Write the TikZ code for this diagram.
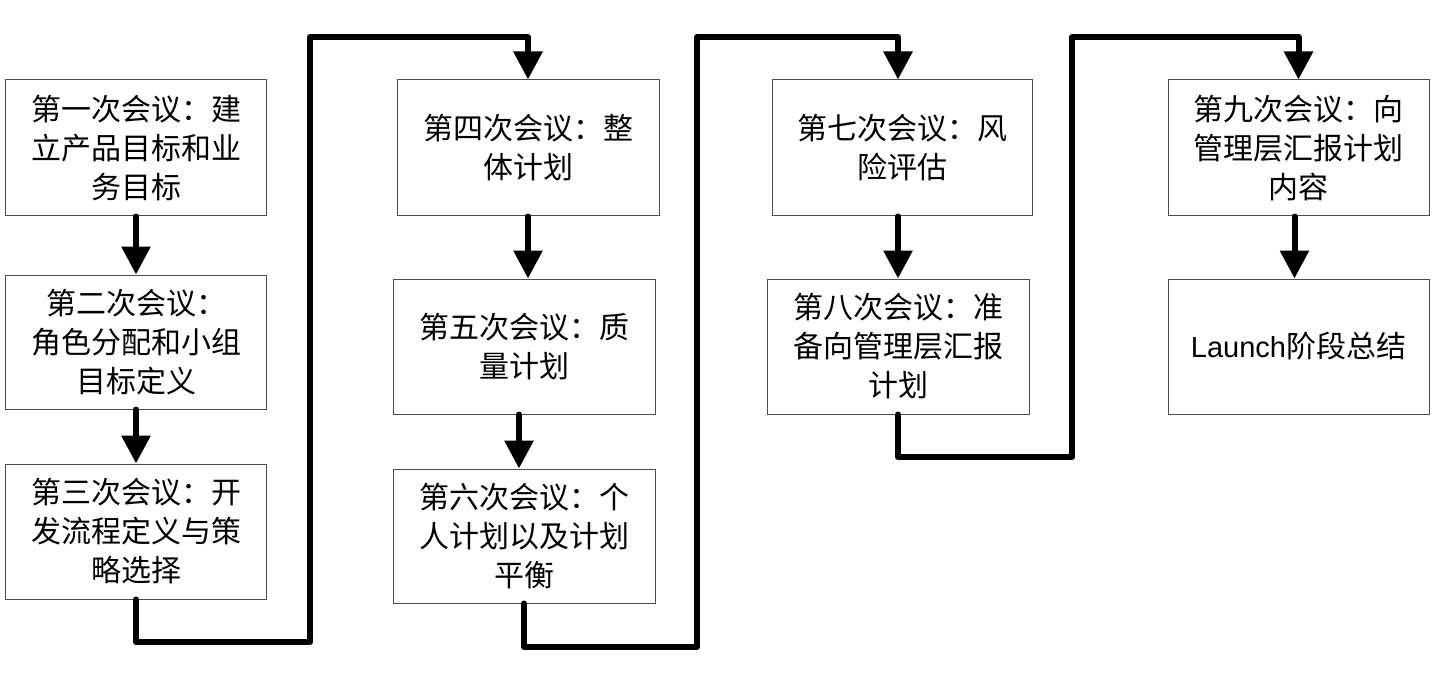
\documentclass[tikz,border=0pt]{standalone}
\usepackage{fontspec}
\setmainfont{Liberation Sans}
\newfontfamily\cjk{Noto Sans CJK SC}
\newfontfamily\latn{Liberation Sans}
\usetikzlibrary{arrows.meta}
\begin{document}
\begin{tikzpicture}[x=1pt,y=-1pt,
  box/.style={draw=black!70,line width=1pt,fill=white,rectangle,align=center,inner sep=0pt,
    font=\cjk\fontsize{30}{39}\selectfont},
  conn/.style={line width=6pt,line join=round,line cap=round,
    -{Triangle[width=28pt,length=28pt]}}]
\useasboundingbox (0,0) rectangle (1437,687);
\node[box,minimum width=261pt,minimum height=136pt] (b1) at (136,148) {第一次会议：建\\立产品目标和业\\务目标};
\node[box,minimum width=261pt,minimum height=134pt] (b2) at (136,342) {第二次会议：\\角色分配和小组\\目标定义};
\node[box,minimum width=261pt,minimum height=135pt] (b3) at (136,531.5) {第三次会议：开\\发流程定义与策\\略选择};
\node[box,minimum width=262pt,minimum height=136pt] (b4) at (528,148) {第四次会议：整\\体计划};
\node[box,minimum width=262pt,minimum height=135pt] (b5) at (524,346.5) {第五次会议：质\\量计划};
\node[box,minimum width=262pt,minimum height=134pt] (b6) at (524,536) {第六次会议：个\\人计划以及计划\\平衡};
\node[box,minimum width=260pt,minimum height=136pt] (b7) at (902,148) {第七次会议：风\\险评估};
\node[box,minimum width=262pt,minimum height=135pt] (b8) at (898,346.5) {第八次会议：准\\备向管理层汇报\\计划};
\node[box,minimum width=261pt,minimum height=136pt] (b9) at (1298.5,148) {第九次会议：向\\管理层汇报计划\\内容};
\node[box,minimum width=261pt,minimum height=135pt] (b10) at (1298.5,346.5) {{\latn\fontsize{29}{39}\selectfont Launch}阶段总结};
% vertical arrows
\draw[conn] (b1.south) -- (b2.north);
\draw[conn] (b2.south) -- (b3.north);
\draw[conn] (b4.south) -- (b4.south |- b5.north);
\draw[conn] ([xshift=-5pt]b5.south) -- ([xshift=-5pt]b6.north);
\draw[conn] (b8.north |- b7.south) -- (b8.north);
\draw[conn] ([xshift=-4pt]b9.south) -- ([xshift=-4pt]b10.north);
% long connectors
\coordinate (r1) at (310,642);
\coordinate (t1) at (310,37);
\coordinate (r2) at (697,647);
\coordinate (t2) at (697,37);
\coordinate (r3) at (1072,457);
\coordinate (t3) at (1072,37);
\draw[conn] (b3.south) |- (r1) -- (t1) -| (b4.north);
\draw[conn] (b6.south) |- (r2) -- (t2) -| (b7.north -| b8.north);
\draw[conn] (b8.south) |- (r3) -- (t3) -| (b9.north);
\end{tikzpicture}
\end{document}
